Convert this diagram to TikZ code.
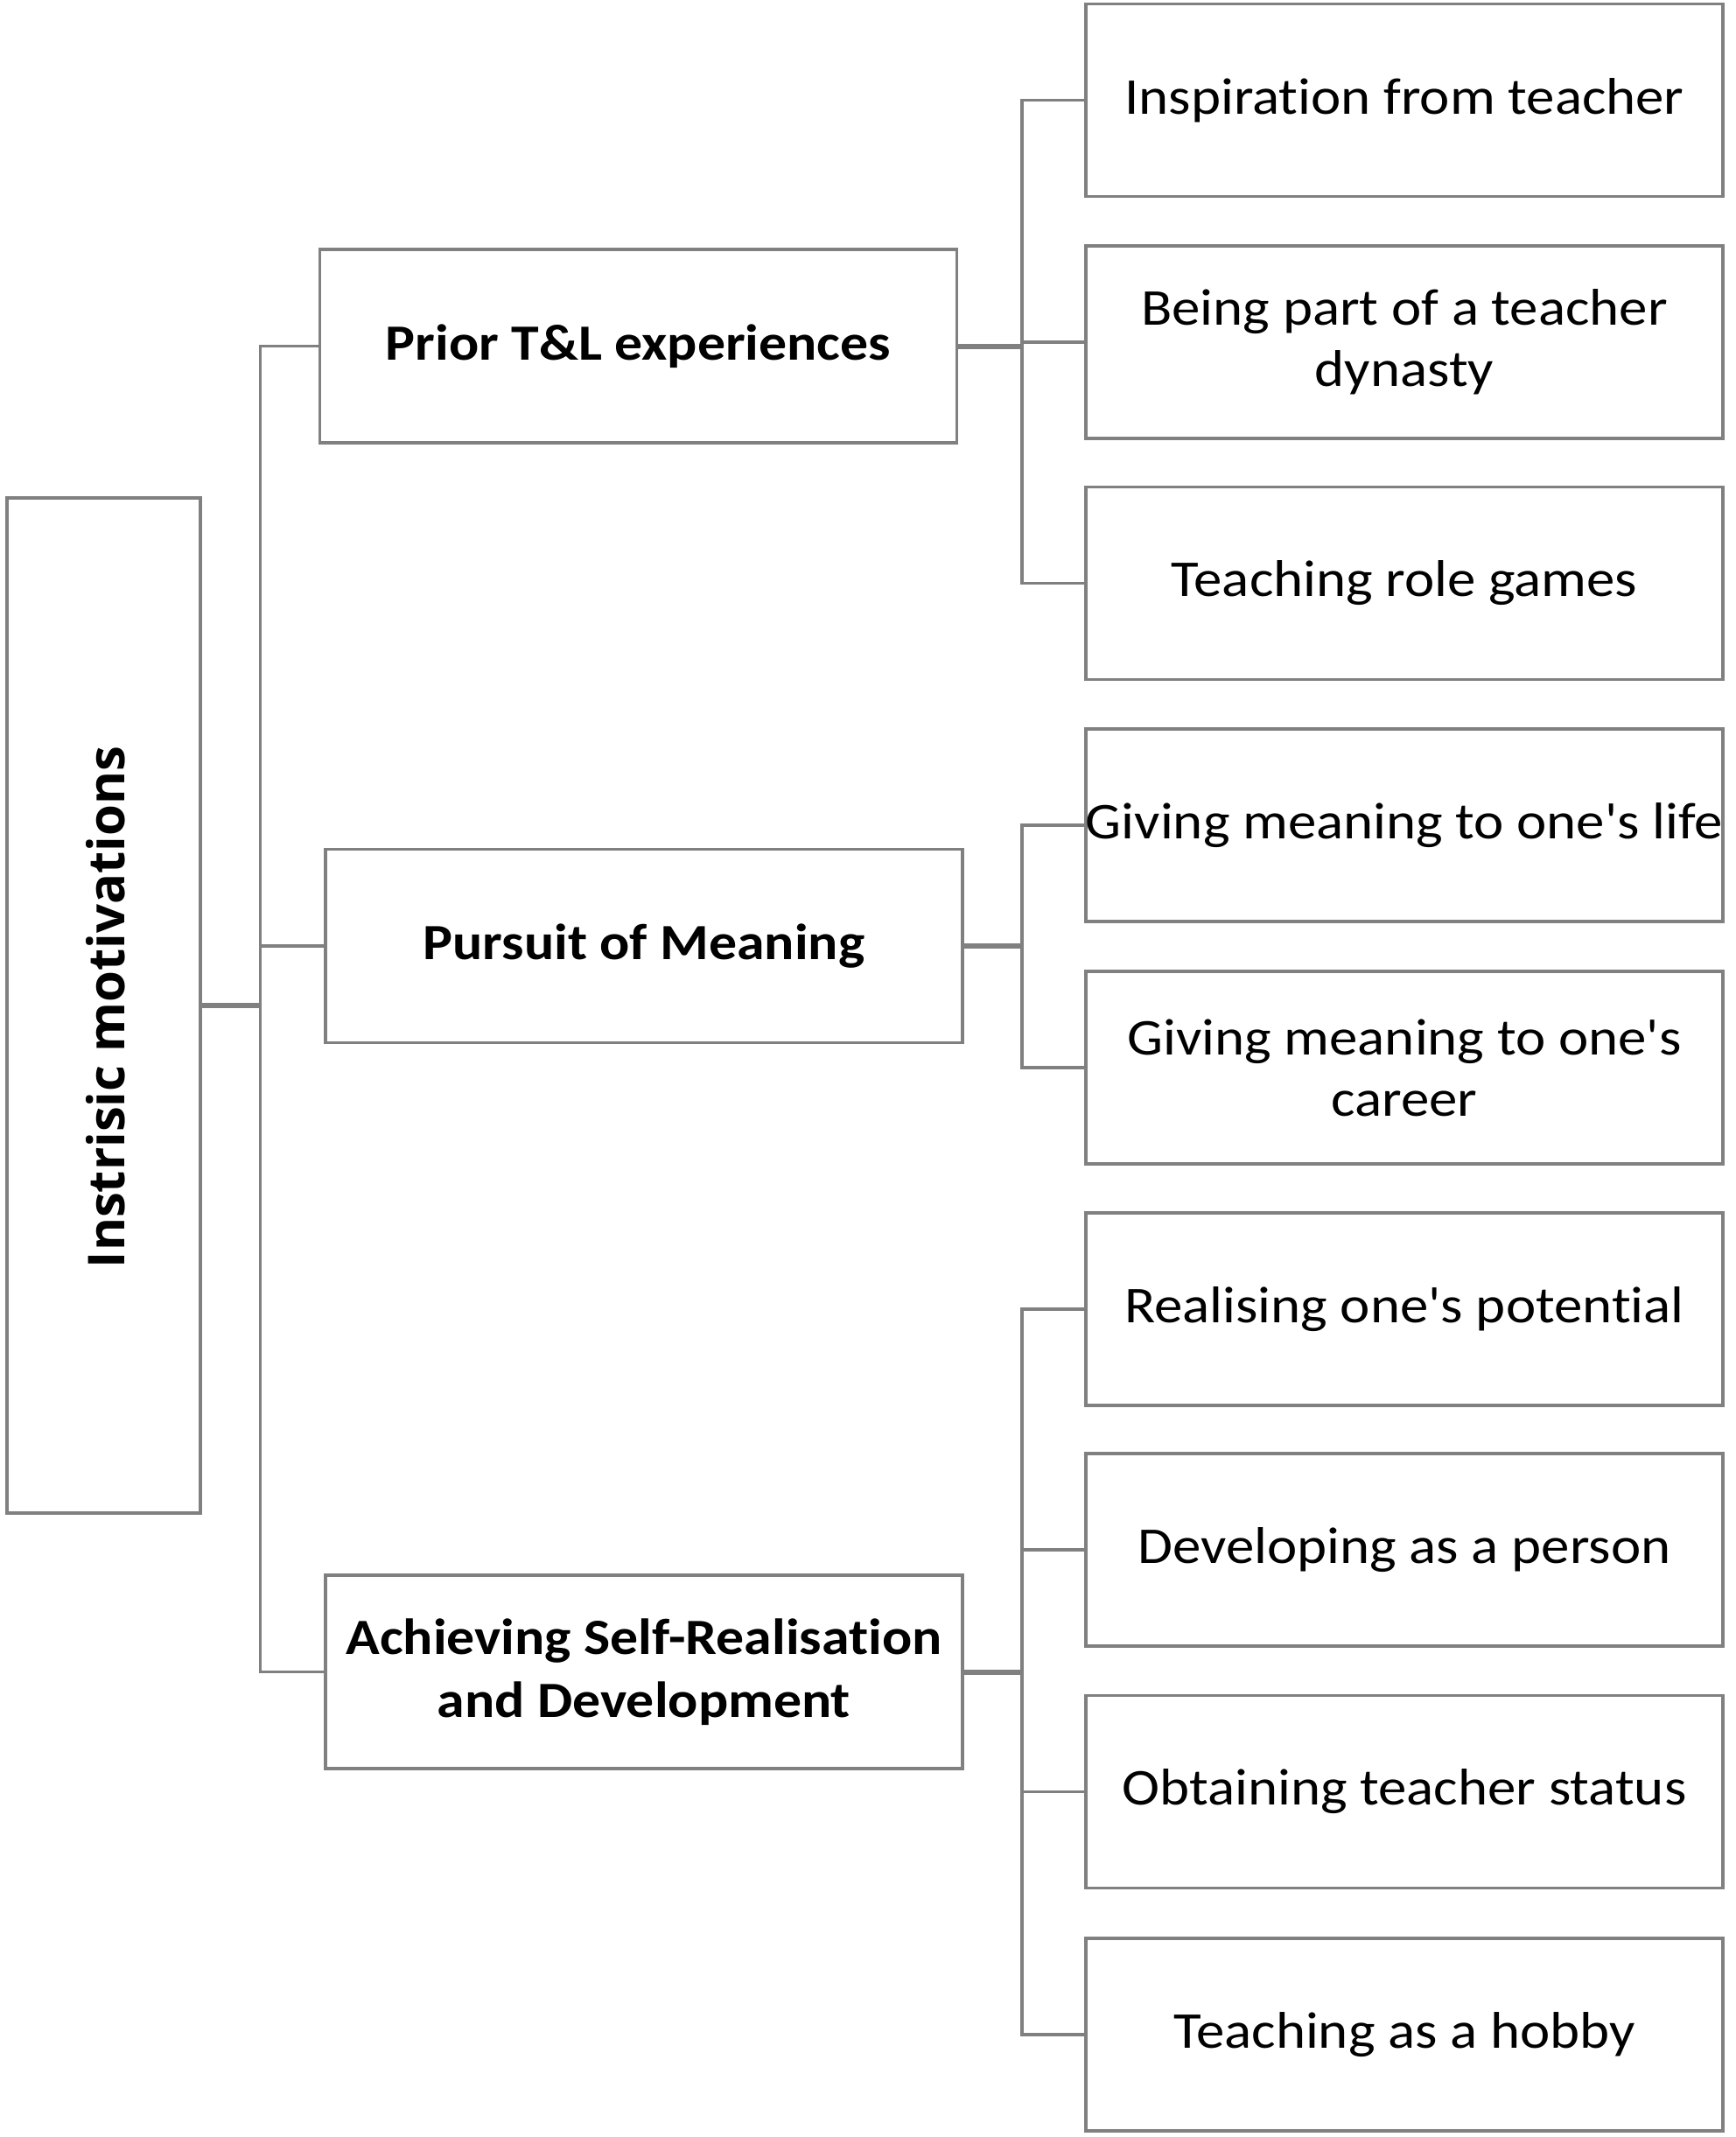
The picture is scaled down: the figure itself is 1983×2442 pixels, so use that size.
\documentclass[tikz,border=0pt]{standalone}
\usepackage{fontspec}
\setmainfont[FakeStretch=1.1, Ligatures={TeXOff,NoCommon}]{Carlito}
\newfontfamily\rootfont{Open Sans}
\begin{document}
\begin{tikzpicture}[x=0.5pt,y=-0.5pt,
  box/.style={draw=boxgray, line width=1.9pt, rectangle, inner sep=0pt, align=center, fill=white},
  leaf/.style={box, minimum width=364pt, minimum height=110pt, font=\fontsize{29.5}{35}\selectfont},
  mid/.style={box, minimum width=364pt, minimum height=110.5pt, font=\fontsize{29}{36}\selectfont\bfseries},
  conn/.style={draw=boxgray, line width=1.9pt},
  stub/.style={draw=boxgray, line width=3pt}]
\definecolor{boxgray}{HTML}{808080}
\useasboundingbox (0,0) rectangle (1983,2442);
\fill[white] (0,0) rectangle (1983,2442);

% root
\node[box, minimum width=110.5pt, minimum height=580pt] (root) at (118.5,1149) {};
\node[rotate=90, font=\rootfont\fontsize{29}{35}\selectfont\bfseries, inner sep=0pt] (rootlabel) at (121,1151) {Instrisic motivations};

% middle
\node[mid] (prior) at (729.5,395.5) {Prior T\&L experiences};
\node[mid] (pur) at (736,1081) {Pursuit of Meaning};
\node[mid] (ach) at (736,1910.5) {Achieving Self-Realisation\\and Development};

% leaves
\node[leaf] (l1) at (1605,114.5) {Inspiration from teacher};
\node[leaf] (l2) at (1605,391) {Being part of a teacher\\dynasty};
\node[leaf] (l3) at (1605,666.5) {Teaching role games};
\node[leaf] (l4) at (1605,943) {Giving meaning to one's life};
\node[leaf] (l5) at (1605,1220) {Giving meaning to one's\\career};
\node[leaf] (l6) at (1605,1496) {Realising one's potential};
\node[leaf] (l7) at (1605,1771) {Developing as a person};
\node[leaf] (l8) at (1605,2047.5) {Obtaining teacher status};
\node[leaf] (l9) at (1605,2325) {Teaching as a hobby};

\coordinate (b1) at (297.5,0);
\coordinate (b2) at (1168,0);

% level 1
\draw[stub] (root.east) -- (root.east -| b1);
\draw[conn] (prior.west) -| (b1 |- ach.west) -- (ach.west);
\draw[conn] (pur.west) -- (pur.west -| b1);

% prior group
\draw[stub] (prior.east) -- (prior.east -| b2);
\draw[conn] (l1.west) -| (b2 |- l3.west) -- (l3.west);
\draw[conn] (l2.west) -- (l2.west -| b2);

% pursuit group
\draw[stub] (pur.east) -- (pur.east -| b2);
\draw[conn] (l4.west) -| (b2 |- l5.west) -- (l5.west);

% achieving group
\draw[stub] (ach.east) -- (ach.east -| b2);
\draw[conn] (l6.west) -| (b2 |- l9.west) -- (l9.west);
\draw[conn] (l7.west) -- (l7.west -| b2);
\draw[conn] (l8.west) -- (l8.west -| b2);
\end{tikzpicture}
\end{document}
